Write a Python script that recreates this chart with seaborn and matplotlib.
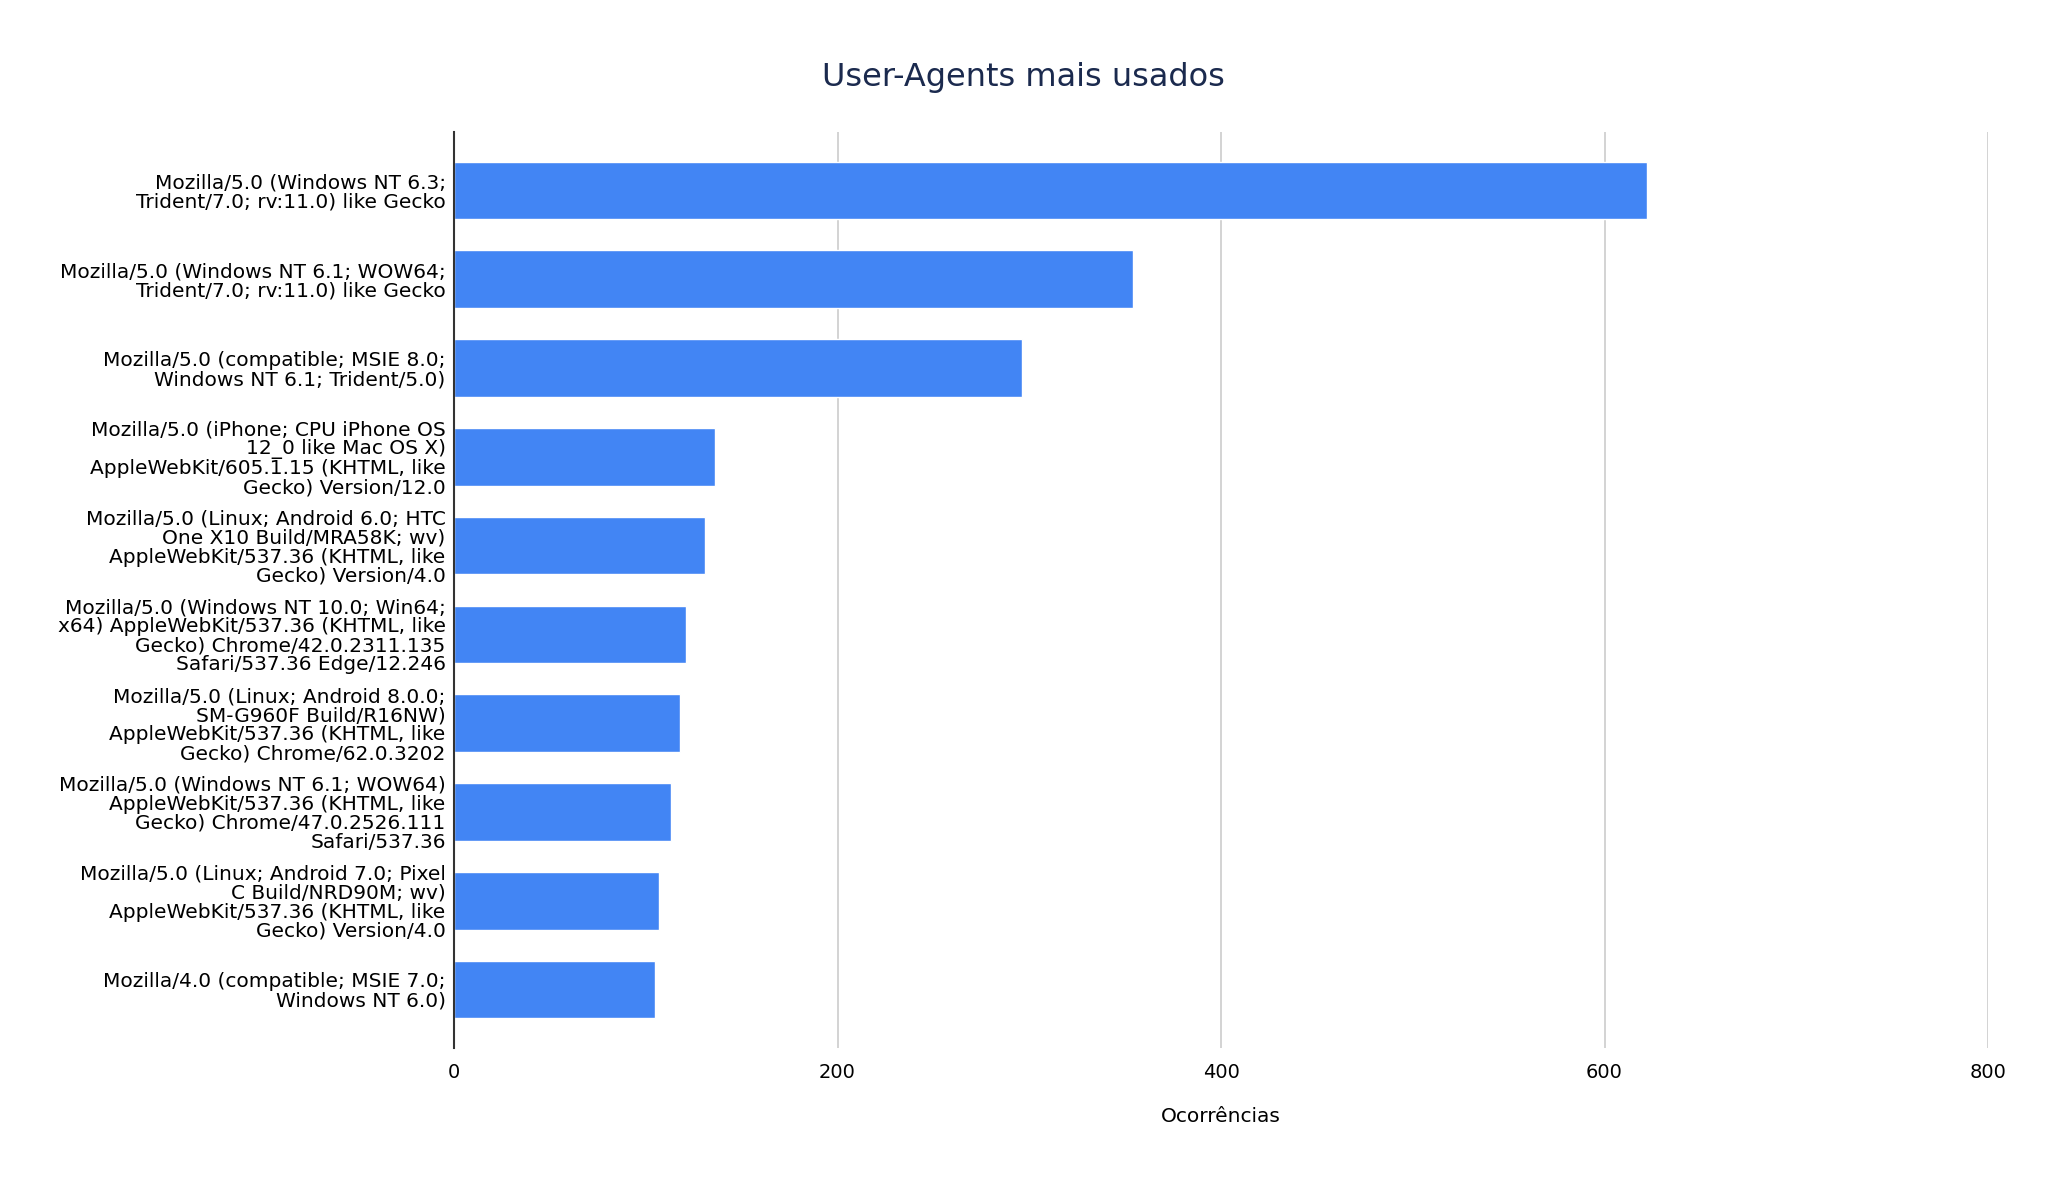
import matplotlib
matplotlib.use("Agg")
import matplotlib.pyplot as plt
import seaborn as sns
import pandas as pd

# top user-agents, labels wrapped like in the original chart
agents = [
    "Mozilla/5.0 (Windows NT 6.3;\nTrident/7.0; rv:11.0) like Gecko",
    "Mozilla/5.0 (Windows NT 6.1; WOW64;\nTrident/7.0; rv:11.0) like Gecko",
    "Mozilla/5.0 (compatible; MSIE 8.0;\nWindows NT 6.1; Trident/5.0)",
    "Mozilla/5.0 (iPhone; CPU iPhone OS\n12_0 like Mac OS X)\nAppleWebKit/605.1.15 (KHTML, like\nGecko) Version/12.0",
    "Mozilla/5.0 (Linux; Android 6.0; HTC\nOne X10 Build/MRA58K; wv)\nAppleWebKit/537.36 (KHTML, like\nGecko) Version/4.0",
    "Mozilla/5.0 (Windows NT 10.0; Win64;\nx64) AppleWebKit/537.36 (KHTML, like\nGecko) Chrome/42.0.2311.135\nSafari/537.36 Edge/12.246",
    "Mozilla/5.0 (Linux; Android 8.0.0;\nSM-G960F Build/R16NW)\nAppleWebKit/537.36 (KHTML, like\nGecko) Chrome/62.0.3202",
    "Mozilla/5.0 (Windows NT 6.1; WOW64)\nAppleWebKit/537.36 (KHTML, like\nGecko) Chrome/47.0.2526.111\nSafari/537.36",
    "Mozilla/5.0 (Linux; Android 7.0; Pixel\nC Build/NRD90M; wv)\nAppleWebKit/537.36 (KHTML, like\nGecko) Version/4.0",
    "Mozilla/4.0 (compatible; MSIE 7.0;\nWindows NT 6.0)",
]
counts = [622, 354, 296, 136, 131, 121, 118, 113, 107, 105]
xticks = [0, 200, 400, 600, 800]

df = pd.DataFrame({"agent": agents, "count": counts})

sns.set_style("white")
plt.rcParams["font.family"] = ["DejaVu Sans"]

fig = plt.figure(figsize=(20.47, 11.88), dpi=100)
ax = fig.add_axes([0.2218, 0.1178, 0.7494, 0.7711])

sns.barplot(data=df, x="count", y="agent", orient="h", color="#4285F4",
            saturation=1, width=0.65, ax=ax, zorder=3)

ax.set_xlim(0, 800)
ax.set_ylim(9.66, -0.66)
ax.set_xticks(xticks)
ax.set_xticklabels([str(t) for t in xticks])
ax.grid(axis="x", color="#cccccc", linewidth=1.2, zorder=0)
ax.set_axisbelow(True)

for s in ["top", "right", "bottom"]:
    ax.spines[s].set_visible(False)
ax.spines["left"].set_color("#333333")
ax.spines["left"].set_linewidth(1.5)
ax.spines["left"].set_zorder(4)

ax.tick_params(axis="y", length=0, pad=6, labelsize=14.5, labelcolor="black")
ax.tick_params(axis="x", length=0, pad=11, labelsize=14, labelcolor="black")
for lab in ax.get_yticklabels():
    lab.set_linespacing(1.0)

ax.set_ylabel("")
ax.set_xlabel("Ocorrências", fontsize=14.5, labelpad=18, color="black")
fig.suptitle("User-Agents mais usados", fontsize=23, color="#1b2a4e", y=0.948)

fig.savefig("out.png", dpi=100, facecolor="white")
